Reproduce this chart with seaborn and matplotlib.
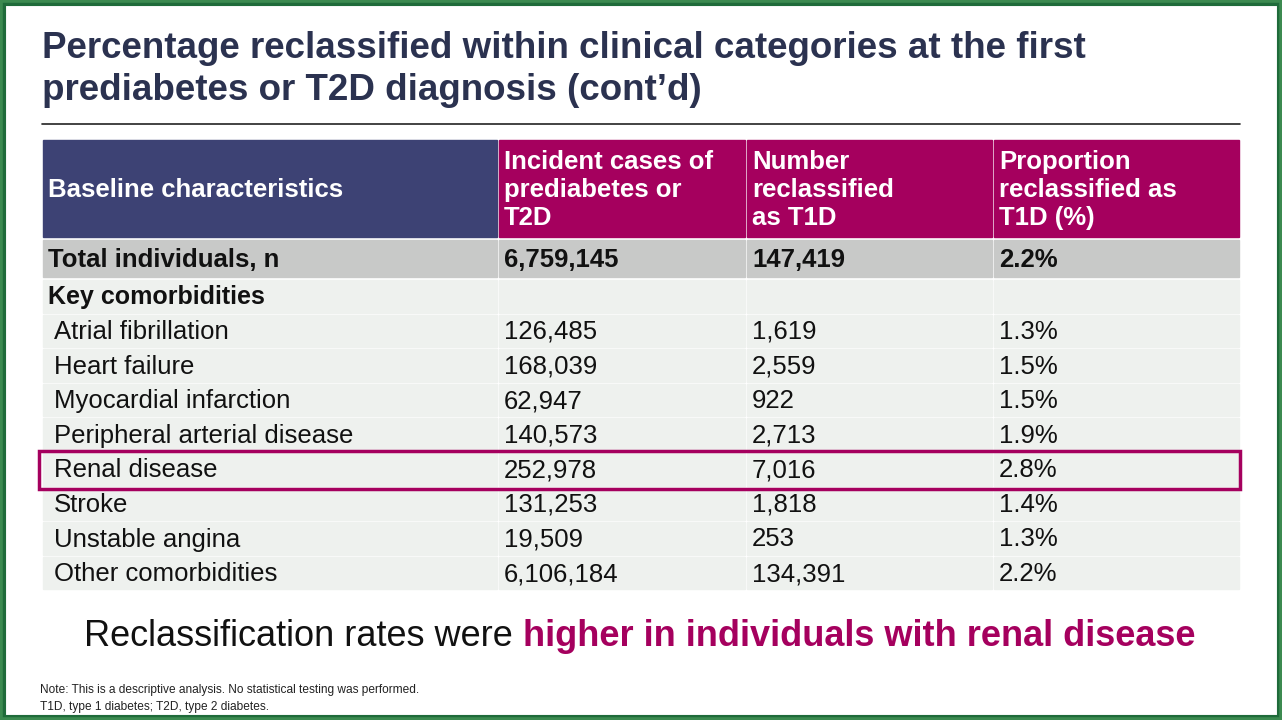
import matplotlib.pyplot as plt
import matplotlib.patches as patches
import seaborn as sns

headers = ["Baseline characteristics", "Incident cases of\nprediabetes or\nT2D",
           "Number\nreclassified\nas T1D", "Proportion\nreclassified as\nT1D (%)"]
total_row = ["Total individuals, n", "6,759,145", "147,419", "2.2%"]
section = "Key comorbidities"
conditions = ["Atrial fibrillation", "Heart failure", "Myocardial infarction",
              "Peripheral arterial disease", "Renal disease", "Stroke",
              "Unstable angina", "Other comorbidities"]
incident = ["126,485", "168,039", "62,947", "140,573", "252,978", "131,253", "19,509", "6,106,184"]
reclassified = ["1,619", "2,559", "922", "2,713", "7,016", "1,818", "253", "134,391"]
proportion = ["1.3%", "1.5%", "1.5%", "1.9%", "2.8%", "1.4%", "1.3%", "2.2%"]
highlight = "Renal disease"

sns.set_theme(style="white")
plt.rcParams['font.family'] = ['Liberation Sans', 'DejaVu Sans']

navy = "#3d4274"
magenta = "#a5005e"
title_col = "#2b3250"

fig = plt.figure(figsize=(12.82, 7.2), dpi=100)
ax = fig.add_axes([0, 0, 1, 1])
ax.set_xlim(0, 1282)
ax.set_ylim(720, 0)
ax.axis("off")

# green frame
for w, c in [(8, "#1f6b3a"), (4, "#3c8a50")]:
    ax.add_patch(patches.Rectangle((0, 0), 1282, 720, fill=False, lw=w, edgecolor=c))

ax.text(42, 49, "Percentage reclassified within clinical categories at the first",
        fontsize=26.5, fontweight="bold", color=title_col, va="center")
ax.text(42, 91, "prediabetes or T2D diagnosis (cont’d)",
        fontsize=26.5, fontweight="bold", color=title_col, va="center")
ax.plot([42, 1240], [124, 124], color="#222222", lw=1.2)

cols = [42, 498, 746, 993, 1240]
pad = 6

# header
for i in range(4):
    ax.add_patch(patches.Rectangle((cols[i] + 1, 140), cols[i + 1] - cols[i] - 2, 97,
                                   color=navy if i == 0 else magenta))
    ax.text(cols[i] + pad, 190, headers[i], fontsize=18.5, fontweight="bold",
            color="white", va="center", linespacing=1.2)

# total row
for i in range(4):
    ax.add_patch(patches.Rectangle((cols[i] + 1, 240), cols[i + 1] - cols[i] - 2, 37, color="#c8c9c8"))
    ax.text(cols[i] + pad, 260, total_row[i], fontsize=18.5, fontweight="bold",
            color="#111111", va="center")

rows = [[section, "", "", ""]] + [[c, a, b, p] for c, a, b, p in zip(conditions, incident, reclassified, proportion)]
y0, rh = 280, 34.6
hl_y = None
for r, row in enumerate(rows):
    y = y0 + r * rh
    for i in range(4):
        ax.add_patch(patches.Rectangle((cols[i] + 1, y), cols[i + 1] - cols[i] - 2, rh - 2, color="#eef1ee"))
        x = cols[i] + (pad if (i > 0 or r == 0) else 12)
        ax.text(x, y + rh / 2, row[i], fontsize=18.5 if r else 18, color="#111111", va="center",
                fontweight="bold" if r == 0 else "normal")
    if row[0] == highlight:
        hl_y = y
if hl_y is not None:
    ax.add_patch(patches.Rectangle((39, hl_y - 2), 1201, rh + 3, fill=False, lw=2.5,
                                   edgecolor=magenta, zorder=5))

# bottom message, centred as a whole
t1 = ax.text(0, 636, "Reclassification rates were ", fontsize=26, color="#111111", va="center")
t2 = ax.text(0, 636, "higher in individuals with renal disease", fontsize=26, color=magenta,
             fontweight="bold", va="center")
r = fig.canvas.get_renderer()
w1 = t1.get_window_extent(r).width
w2 = t2.get_window_extent(r).width
start = 640 - (w1 + w2) / 2
t1.set_x(start)
t2.set_x(start + w1)

ax.text(40, 690, "Note: This is a descriptive analysis. No statistical testing was performed.",
        fontsize=8.6, color="#222222", va="center")
ax.text(40, 707, "T1D, type 1 diabetes; T2D, type 2 diabetes.", fontsize=8.6, color="#222222", va="center")

fig.savefig("out.png", dpi=100)
